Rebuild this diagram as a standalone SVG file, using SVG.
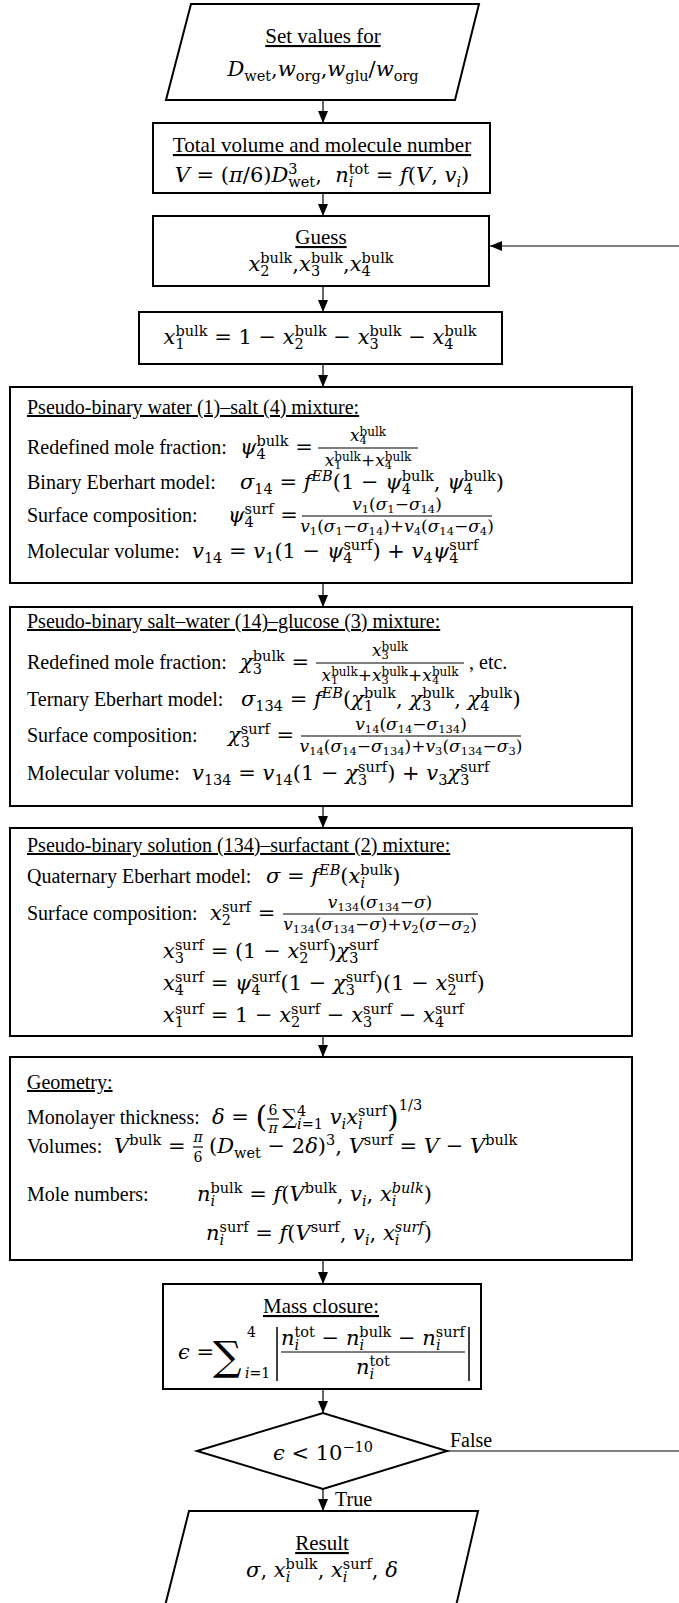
<svg xmlns="http://www.w3.org/2000/svg" width="679" height="1603" viewBox="0 0 679 1603">
<defs>
<style>
.tx{font-family:"Liberation Serif",serif;font-size:20px;fill:#000}
.tb{font-size:21px}
.u{text-decoration:underline}
.m{font-family:"DejaVu Serif","Liberation Serif",serif;font-size:21px;fill:#000}
.i{font-style:italic}
.p{font-size:14.5px;baseline-shift:8px}
.b{font-size:14.5px;baseline-shift:-5px}
.f{font-size:17px}
.fp{font-size:12px;baseline-shift:5px}
.fb{font-size:11.5px;baseline-shift:-3px}
.box{fill:#fff;stroke:#000;stroke-width:2}
.c{fill:none;stroke:#000;stroke-width:1.2}
.bar{stroke:#000;stroke-width:1.2}
</style>
<marker id="ah" viewBox="0 0 12 10" refX="12" refY="5" markerWidth="12" markerHeight="10" markerUnits="userSpaceOnUse" orient="auto"><path d="M0,0 L12,5 L0,10 z" fill="#000"/></marker>
</defs>
<rect width="679" height="1603" fill="#fff"/>
<g id="connectors">
<line class="c" x1="323" y1="100" x2="323" y2="123" marker-end="url(#ah)"/>
<line class="c" x1="323" y1="193" x2="323" y2="216" marker-end="url(#ah)"/>
<line class="c" x1="323" y1="286" x2="323" y2="312" marker-end="url(#ah)"/>
<line class="c" x1="323" y1="364" x2="323" y2="387" marker-end="url(#ah)"/>
<line class="c" x1="323" y1="583" x2="323" y2="607" marker-end="url(#ah)"/>
<line class="c" x1="323" y1="806" x2="323" y2="828" marker-end="url(#ah)"/>
<line class="c" x1="323" y1="1036" x2="323" y2="1057" marker-end="url(#ah)"/>
<line class="c" x1="323" y1="1260" x2="323" y2="1284" marker-end="url(#ah)"/>
<line class="c" x1="323" y1="1389" x2="323" y2="1413" marker-end="url(#ah)"/>
<line class="c" x1="323" y1="1489" x2="323" y2="1511" marker-end="url(#ah)"/>
<path class="c" d="M447,1451 H690 V246 H490" marker-end="url(#ah)"/>
<text class="tx" x="450" y="1447">False</text>
<text class="tx" x="335" y="1506">True</text>
</g>
<g id="n1">
<polygon class="box" points="191,4 479,4 455,100 166,100"/>
<text class="tx tb u" x="323" y="43" text-anchor="middle">Set values for</text>
<text class="m" x="323" y="76" text-anchor="middle"><tspan class="i">D</tspan><tspan class="b">wet</tspan>,<tspan class="i">w</tspan><tspan class="b">org</tspan>,<tspan class="i">w</tspan><tspan class="b">glu</tspan>/<tspan class="i">w</tspan><tspan class="b">org</tspan></text>
</g>
<g id="n2">
<rect class="box" x="153" y="123" width="337" height="70"/>
<text class="tx tb u" x="322" y="152" text-anchor="middle">Total volume and molecule number</text>
<text class="m" x="322" y="182" text-anchor="middle"><tspan class="i">V</tspan> = (<tspan class="i">π</tspan>/6)<tspan class="i">D</tspan><tspan class="p">3</tspan><tspan class="b" dx="-9.2">wet</tspan>,&#160; <tspan class="i">n</tspan><tspan class="b i">i</tspan><tspan class="p" dx="-4.7">tot</tspan> = <tspan class="i">f</tspan>(<tspan class="i">V</tspan>, <tspan class="i">v</tspan><tspan class="b i">i</tspan>)</text>
</g>
<g id="n3">
<rect class="box" x="153" y="216" width="336" height="70"/>
<text class="tx tb u" x="321" y="244" text-anchor="middle">Guess</text>
<text class="m" x="321" y="271" text-anchor="middle"><tspan class="i">x</tspan><tspan class="b">2</tspan><tspan class="p" dx="-9.2">bulk</tspan>,<tspan class="i">x</tspan><tspan class="b">3</tspan><tspan class="p" dx="-9.2">bulk</tspan>,<tspan class="i">x</tspan><tspan class="b">4</tspan><tspan class="p" dx="-9.2">bulk</tspan></text>
</g>
<g id="n4">
<rect class="box" x="139" y="312" width="363" height="52"/>
<text class="m" x="320" y="344" text-anchor="middle"><tspan class="i">x</tspan><tspan class="b">1</tspan><tspan class="p" dx="-9.2">bulk</tspan> = 1 − <tspan class="i">x</tspan><tspan class="b">2</tspan><tspan class="p" dx="-9.2">bulk</tspan> − <tspan class="i">x</tspan><tspan class="b">3</tspan><tspan class="p" dx="-9.2">bulk</tspan> − <tspan class="i">x</tspan><tspan class="b">4</tspan><tspan class="p" dx="-9.2">bulk</tspan></text>
</g>
<g id="n5">
<rect class="box" x="10" y="387" width="622" height="196"/>
<text class="tx u" x="27" y="414">Pseudo-binary water (1)–salt (4) mixture:</text>
<text class="tx" x="27" y="454">Redefined mole fraction:</text>
<text class="m" x="240" y="454"><tspan class="i">ψ</tspan><tspan class="b">4</tspan><tspan class="p" dx="-9.2">bulk</tspan> =</text>
<line class="bar" x1="318" y1="448" x2="418" y2="448"/>
<text class="m f" x="368" y="441" text-anchor="middle"><tspan class="i">x</tspan><tspan class="fb">4</tspan><tspan class="fp" dx="-7.3">bulk</tspan></text>
<text class="m f" x="368" y="466" text-anchor="middle"><tspan class="i">x</tspan><tspan class="fb">1</tspan><tspan class="fp" dx="-7.3">bulk</tspan>+<tspan class="i">x</tspan><tspan class="fb">4</tspan><tspan class="fp" dx="-7.3">bulk</tspan></text>
<text class="tx" x="27" y="489">Binary Eberhart model:</text>
<text class="m" x="240" y="489"><tspan class="i">σ</tspan><tspan class="b">14</tspan> = <tspan class="i">f</tspan><tspan class="p i">EB</tspan>(1 − <tspan class="i">ψ</tspan><tspan class="b">4</tspan><tspan class="p" dx="-9.2">bulk</tspan>, <tspan class="i">ψ</tspan><tspan class="b">4</tspan><tspan class="p" dx="-9.2">bulk</tspan>)</text>
<text class="tx" x="27" y="522">Surface composition:</text>
<text class="m" x="228" y="522"><tspan class="i">ψ</tspan><tspan class="b">4</tspan><tspan class="p" dx="-9.2">surf</tspan> =</text>
<line class="bar" x1="302" y1="516" x2="492" y2="516"/>
<text class="m f" x="397" y="510" text-anchor="middle"><tspan class="i">v</tspan><tspan class="fb">1</tspan>(<tspan class="i">σ</tspan><tspan class="fb">1</tspan>−<tspan class="i">σ</tspan><tspan class="fb">14</tspan>)</text>
<text class="m f" x="397" y="532" text-anchor="middle"><tspan class="i">v</tspan><tspan class="fb">1</tspan>(<tspan class="i">σ</tspan><tspan class="fb">1</tspan>−<tspan class="i">σ</tspan><tspan class="fb">14</tspan>)+<tspan class="i">v</tspan><tspan class="fb">4</tspan>(<tspan class="i">σ</tspan><tspan class="fb">14</tspan>−<tspan class="i">σ</tspan><tspan class="fb">4</tspan>)</text>
<text class="tx" x="27" y="558">Molecular volume:</text>
<text class="m" x="192" y="558"><tspan class="i">v</tspan><tspan class="b">14</tspan> = <tspan class="i">v</tspan><tspan class="b">1</tspan>(1 − <tspan class="i">ψ</tspan><tspan class="b">4</tspan><tspan class="p" dx="-9.2">surf</tspan>) + <tspan class="i">v</tspan><tspan class="b">4</tspan><tspan class="i">ψ</tspan><tspan class="b">4</tspan><tspan class="p" dx="-9.2">surf</tspan></text>
</g>
<g id="n6">
<rect class="box" x="10" y="607" width="622" height="199"/>
<text class="tx u" x="27" y="628">Pseudo-binary salt–water (14)–glucose (3) mixture:</text>
<text class="tx" x="27" y="669">Redefined mole fraction:</text>
<text class="m" x="240" y="669"><tspan class="i">χ</tspan><tspan class="b">3</tspan><tspan class="p" dx="-9.2">bulk</tspan> =</text>
<line class="bar" x1="316" y1="663" x2="464" y2="663"/>
<text class="m f" x="390" y="656" text-anchor="middle"><tspan class="i">x</tspan><tspan class="fb">3</tspan><tspan class="fp" dx="-7.3">bulk</tspan></text>
<text class="m f" x="390" y="681" text-anchor="middle"><tspan class="i">x</tspan><tspan class="fb">1</tspan><tspan class="fp" dx="-7.3">bulk</tspan>+<tspan class="i">x</tspan><tspan class="fb">3</tspan><tspan class="fp" dx="-7.3">bulk</tspan>+<tspan class="i">x</tspan><tspan class="fb">4</tspan><tspan class="fp" dx="-7.3">bulk</tspan></text>
<text class="tx" x="469" y="669">, etc.</text>
<text class="tx" x="27" y="706">Ternary Eberhart model:</text>
<text class="m" x="241" y="706"><tspan class="i">σ</tspan><tspan class="b">134</tspan> = <tspan class="i">f</tspan><tspan class="p i">EB</tspan>(<tspan class="i">χ</tspan><tspan class="b">1</tspan><tspan class="p" dx="-9.2">bulk</tspan>, <tspan class="i">χ</tspan><tspan class="b">3</tspan><tspan class="p" dx="-9.2">bulk</tspan>, <tspan class="i">χ</tspan><tspan class="b">4</tspan><tspan class="p" dx="-9.2">bulk</tspan>)</text>
<text class="tx" x="27" y="742">Surface composition:</text>
<text class="m" x="228" y="742"><tspan class="i">χ</tspan><tspan class="b">3</tspan><tspan class="p" dx="-9.2">surf</tspan> =</text>
<line class="bar" x1="301" y1="736" x2="521" y2="736"/>
<text class="m f" x="411" y="730" text-anchor="middle"><tspan class="i">v</tspan><tspan class="fb">14</tspan>(<tspan class="i">σ</tspan><tspan class="fb">14</tspan>−<tspan class="i">σ</tspan><tspan class="fb">134</tspan>)</text>
<text class="m f" x="411" y="752" text-anchor="middle"><tspan class="i">v</tspan><tspan class="fb">14</tspan>(<tspan class="i">σ</tspan><tspan class="fb">14</tspan>−<tspan class="i">σ</tspan><tspan class="fb">134</tspan>)+<tspan class="i">v</tspan><tspan class="fb">3</tspan>(<tspan class="i">σ</tspan><tspan class="fb">134</tspan>−<tspan class="i">σ</tspan><tspan class="fb">3</tspan>)</text>
<text class="tx" x="27" y="780">Molecular volume:</text>
<text class="m" x="192" y="780"><tspan class="i">v</tspan><tspan class="b">134</tspan> = <tspan class="i">v</tspan><tspan class="b">14</tspan>(1 − <tspan class="i">χ</tspan><tspan class="b">3</tspan><tspan class="p" dx="-9.2">surf</tspan>) + <tspan class="i">v</tspan><tspan class="b">3</tspan><tspan class="i">χ</tspan><tspan class="b">3</tspan><tspan class="p" dx="-9.2">surf</tspan></text>
</g>
<g id="n7">
<rect class="box" x="10" y="828" width="622" height="208"/>
<text class="tx u" x="27" y="852">Pseudo-binary solution (134)–surfactant (2) mixture:</text>
<text class="tx" x="27" y="883">Quaternary Eberhart model:</text>
<text class="m" x="266" y="883"><tspan class="i">σ</tspan> = <tspan class="i">f</tspan><tspan class="p i">EB</tspan>(<tspan class="i">x</tspan><tspan class="b i">i</tspan><tspan class="p" dx="-4.7">bulk</tspan>)</text>
<text class="tx" x="27" y="920">Surface composition:</text>
<text class="m" x="210" y="920"><tspan class="i">x</tspan><tspan class="b">2</tspan><tspan class="p" dx="-9.2">surf</tspan> =</text>
<line class="bar" x1="283" y1="914" x2="478" y2="914"/>
<text class="m f" x="380" y="908" text-anchor="middle"><tspan class="i">v</tspan><tspan class="fb">134</tspan>(<tspan class="i">σ</tspan><tspan class="fb">134</tspan>−<tspan class="i">σ</tspan>)</text>
<text class="m f" x="380" y="930" text-anchor="middle"><tspan class="i">v</tspan><tspan class="fb">134</tspan>(<tspan class="i">σ</tspan><tspan class="fb">134</tspan>−<tspan class="i">σ</tspan>)+<tspan class="i">v</tspan><tspan class="fb">2</tspan>(<tspan class="i">σ</tspan>−<tspan class="i">σ</tspan><tspan class="fb">2</tspan>)</text>
<text class="m" x="163" y="958"><tspan class="i">x</tspan><tspan class="b">3</tspan><tspan class="p" dx="-9.2">surf</tspan> = (1 − <tspan class="i">x</tspan><tspan class="b">2</tspan><tspan class="p" dx="-9.2">surf</tspan>)<tspan class="i">χ</tspan><tspan class="b">3</tspan><tspan class="p" dx="-9.2">surf</tspan></text>
<text class="m" x="163" y="990"><tspan class="i">x</tspan><tspan class="b">4</tspan><tspan class="p" dx="-9.2">surf</tspan> = <tspan class="i">ψ</tspan><tspan class="b">4</tspan><tspan class="p" dx="-9.2">surf</tspan>(1 − <tspan class="i">χ</tspan><tspan class="b">3</tspan><tspan class="p" dx="-9.2">surf</tspan>)(1 − <tspan class="i">x</tspan><tspan class="b">2</tspan><tspan class="p" dx="-9.2">surf</tspan>)</text>
<text class="m" x="163" y="1022"><tspan class="i">x</tspan><tspan class="b">1</tspan><tspan class="p" dx="-9.2">surf</tspan> = 1 − <tspan class="i">x</tspan><tspan class="b">2</tspan><tspan class="p" dx="-9.2">surf</tspan> − <tspan class="i">x</tspan><tspan class="b">3</tspan><tspan class="p" dx="-9.2">surf</tspan> − <tspan class="i">x</tspan><tspan class="b">4</tspan><tspan class="p" dx="-9.2">surf</tspan></text>
</g>
<g id="n8">
<rect class="box" x="10" y="1057" width="622" height="203"/>
<text class="tx u" x="27" y="1089">Geometry:</text>
<text class="tx" x="27" y="1124">Monolayer thickness:</text>
<text class="m" x="212" y="1124"><tspan class="i">δ</tspan> = <tspan style="font-size:30px;baseline-shift:-3px">(</tspan></text>
<text class="m" x="273" y="1115" style="font-size:14px" text-anchor="middle">6</text>
<line class="bar" x1="267" y1="1119" x2="279" y2="1119"/>
<text class="m i" x="273" y="1133" style="font-size:14px" text-anchor="middle">π</text>
<text class="m" x="282" y="1124">∑<tspan class="p">4</tspan><tspan class="b" dx="-9.2"><tspan class="i">i</tspan>=1</tspan> <tspan class="i">v</tspan><tspan class="b i">i</tspan><tspan class="i">x</tspan><tspan class="b i">i</tspan><tspan class="p" dx="-4.7">surf</tspan><tspan style="font-size:30px;baseline-shift:-3px">)</tspan><tspan class="p" style="baseline-shift:14px">1/3</tspan></text>
<text class="tx" x="27" y="1153">Volumes:</text>
<text class="m" x="114" y="1153"><tspan class="i">V</tspan><tspan class="p">bulk</tspan> =</text>
<text class="m i" x="198" y="1142" style="font-size:14px" text-anchor="middle">π</text>
<line class="bar" x1="193" y1="1147" x2="203" y2="1147"/>
<text class="m" x="198" y="1162" style="font-size:14px" text-anchor="middle">6</text>
<text class="m" x="209" y="1153">(<tspan class="i">D</tspan><tspan class="b">wet</tspan> − 2<tspan class="i">δ</tspan>)<tspan class="p">3</tspan>, <tspan class="i">V</tspan><tspan class="p">surf</tspan> = <tspan class="i">V</tspan> − <tspan class="i">V</tspan><tspan class="p">bulk</tspan></text>
<text class="tx" x="27" y="1201">Mole numbers:</text>
<text class="m" x="197" y="1201"><tspan class="i">n</tspan><tspan class="b i">i</tspan><tspan class="p" dx="-4.7">bulk</tspan> = <tspan class="i">f</tspan>(<tspan class="i">V</tspan><tspan class="p">bulk</tspan>, <tspan class="i">v</tspan><tspan class="b i">i</tspan>, <tspan class="i">x</tspan><tspan class="b i">i</tspan><tspan class="p i" dx="-4.7">bulk</tspan>)</text>
<text class="m" x="206" y="1240"><tspan class="i">n</tspan><tspan class="b i">i</tspan><tspan class="p" dx="-4.7">surf</tspan> = <tspan class="i">f</tspan>(<tspan class="i">V</tspan><tspan class="p">surf</tspan>, <tspan class="i">v</tspan><tspan class="b i">i</tspan>, <tspan class="i">x</tspan><tspan class="b i">i</tspan><tspan class="p i" dx="-4.7">surf</tspan>)</text>
</g>
<g id="n9">
<rect class="box" x="163" y="1284" width="318" height="105"/>
<text class="tx tb u" x="321" y="1313" text-anchor="middle">Mass closure:</text>
<text class="m" x="178" y="1359"><tspan class="i">ϵ</tspan> =</text>
<text class="m" x="213" y="1370" style="font-size:40px">∑</text>
<text class="m" x="247" y="1337" style="font-size:14px">4</text>
<text class="m" x="245" y="1378" style="font-size:14px"><tspan class="i">i</tspan>=1</text>
<line x1="277" y1="1327" x2="277" y2="1381" stroke="#000" stroke-width="1.5"/>
<line x1="469" y1="1327" x2="469" y2="1381" stroke="#000" stroke-width="1.5"/>
<line class="bar" x1="281" y1="1352" x2="465" y2="1352"/>
<text class="m" x="373" y="1345" text-anchor="middle"><tspan class="i">n</tspan><tspan class="b i">i</tspan><tspan class="p" dx="-4.7">tot</tspan> − <tspan class="i">n</tspan><tspan class="b i">i</tspan><tspan class="p" dx="-4.7">bulk</tspan> − <tspan class="i">n</tspan><tspan class="b i">i</tspan><tspan class="p" dx="-4.7">surf</tspan></text>
<text class="m" x="373" y="1374" text-anchor="middle"><tspan class="i">n</tspan><tspan class="b i">i</tspan><tspan class="p" dx="-4.7">tot</tspan></text>
</g>
<g id="n10">
<polygon class="box" points="197,1451 323,1413 447,1451 323,1489"/>
<text class="m" x="323" y="1460" text-anchor="middle"><tspan class="i">ϵ</tspan> &lt; 10<tspan class="p">−10</tspan></text>
</g>
<g id="n11">
<polygon class="box" points="189,1511 478,1511 456,1606 165,1606"/>
<text class="tx tb u" x="322" y="1550" text-anchor="middle">Result</text>
<text class="m" x="322" y="1577" text-anchor="middle"><tspan class="i">σ</tspan>, <tspan class="i">x</tspan><tspan class="b i">i</tspan><tspan class="p" dx="-4.7">bulk</tspan>, <tspan class="i">x</tspan><tspan class="b i">i</tspan><tspan class="p" dx="-4.7">surf</tspan>, <tspan class="i">δ</tspan></text>
</g>
</svg>
